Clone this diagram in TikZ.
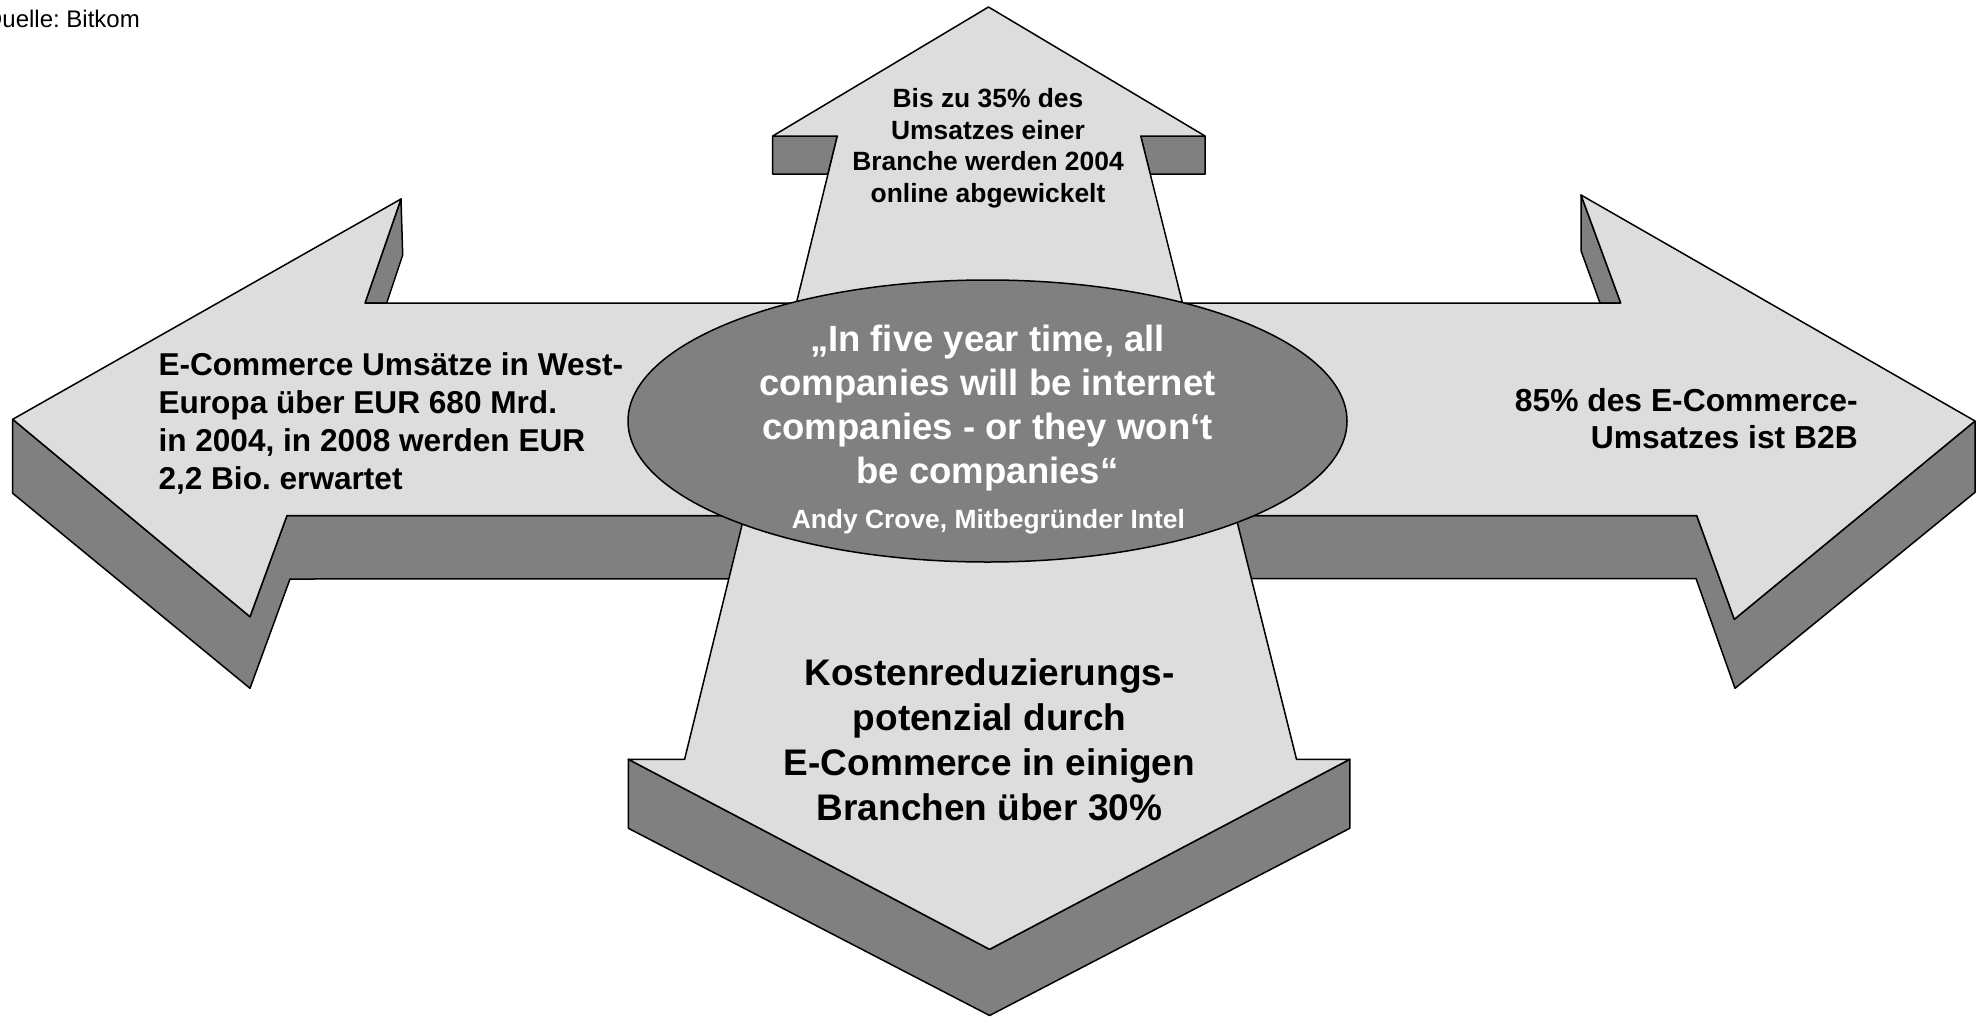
\documentclass[tikz,border=0pt]{standalone}
\usepackage{fontspec}
\setmainfont{Liberation Sans}
\usetikzlibrary{shapes.geometric}
\frenchspacing

\definecolor{facegray}{RGB}{221,221,221}
\definecolor{sidegray}{RGB}{128,128,128}

\tikzset{
  face/.style={fill=facegray, draw=black, line width=1.5pt, line join=round},
  side/.style={fill=sidegray, draw=black, line width=1.5pt, line join=round},
  txt/.style={inner sep=0pt, font=\bfseries},
}

\begin{document}
\begin{tikzpicture}[x=1pt, y=-1pt]
        \useasboundingbox (0,0) rectangle (1977,1017);
        \fill[white] (0,0) rectangle (1977,1017);

        % horizontal arrow
        \draw[side] (12.7,419.3) -- (12.7,493.3) -- (250,688.3) -- (290,579) -- (1696,578.5) -- (1735,688.3) -- (1975,492.3) -- (1975,421) -- (1734.3,619.3) -- (1696.7,515.5) -- (287,515.5) -- (250,616.7) -- cycle;
        \draw[side] (401,199) -- (402.7,255) -- (386.7,303) -- (365,303) -- cycle;
        \draw[side] (1581,195) -- (1581,250.7) -- (1600,303) -- (1620.7,303) -- cycle;
        \draw[face] (12.7,419.3) -- (401,199) -- (365,303) -- (1620.7,303) -- (1581,195) -- (1975,421) -- (1734.3,619.3) -- (1696.7,515.5) -- (287,515.5) -- (250,616.7) -- cycle;

        % vertical arrow
        \draw[side] (772.7,136) -- (837.3,136) -- (828,174) -- (772.7,174) -- cycle;
        \draw[side] (1140.7,136) -- (1205,136) -- (1205,174) -- (1150.2,174) -- cycle;
        \draw[side] (628.4,759.3) -- (628.4,828.3) -- (989.6,1015.5) -- (1349.8,828.3) -- (1349.8,759.3) -- (989.6,949.3) -- cycle;
        \draw[face] (988.5,7) -- (1205,136) -- (1140.7,136) -- (1296.5,759.3) -- (1349.8,759.3) -- (989.6,949.3) -- (628.4,759.3) -- (684.6,759.3) -- (837.3,136) -- (772.7,136) -- cycle;

        \node[ellipse, fill=sidegray, draw=black, line width=1.5pt, minimum width=719pt, minimum height=282pt, inner sep=0pt] (quote) at (987.5,421) {};

        % base anchor = baseline of the last line
        \node[txt, anchor=base east, font=\fontsize{24}{28.8}\selectfont] (source) at (140,27.7) {Quelle: Bitkom};
        \node[txt, anchor=base, align=center, font=\fontsize{26.4}{31.7}\selectfont\bfseries] (online) at (988,202.4) {Bis zu 35\% des\\Umsatzes einer\\Branche werden 2004\\online abgewickelt};
        \node[txt, anchor=base west, align=left, font=\fontsize{31.6}{37.9}\selectfont\bfseries] (europe) at (158.3,489.4) {E-Commerce Umsätze in West-\\Europa über EUR 680 Mrd.\\in 2004, in 2008 werden EUR\\2,2 Bio. erwartet};
        \node[txt, anchor=base east, align=right, font=\fontsize{31.8}{37.5}\selectfont\bfseries] (btob) at (1858,448.5) {85\% des E-Commerce-\\Umsatzes ist B2B};
        \node[txt, anchor=base, align=center, font=\fontsize{37}{45}\selectfont\bfseries] (costs) at (989.5,820) {Kostenreduzierungs-\\potenzial durch\\E-Commerce in einigen\\Branchen über 30\%};
        \node[txt, anchor=base, align=center, text=white, font=\fontsize{36.5}{43.8}\selectfont\bfseries] (quotetext) at (987.5,483.1) {„In five year time, all\\companies will be internet\\companies - or they won‘t\\be companies“};
        \node[txt, anchor=base, text=white, font=\fontsize{26.4}{31.7}\selectfont\bfseries] (author) at (988.3,528) {Andy Crove, Mitbegründer Intel};
\end{tikzpicture}
\end{document}
